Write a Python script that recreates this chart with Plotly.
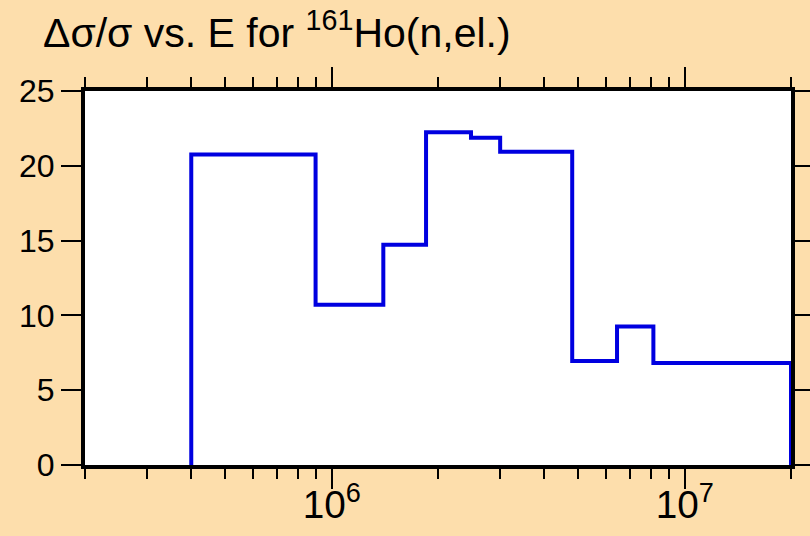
import plotly.graph_objects as go

# bin edges (eV) and relative uncertainty (%) per bin
energy_edges = [4.0e5, 9.0e5, 1.40e6, 1.85e6, 2.48e6, 3.0e6, 4.8e6, 6.43e6, 8.15e6, 2.0e7]
rel_unc = [20.75, 10.72, 14.73, 22.25, 21.88, 20.94, 6.95, 9.25, 6.82]

# step outline: start from zero, close back to zero at the last edge
x = [energy_edges[0]] + energy_edges
y = [0] + rel_unc + [0]

FONT = "Liberation Sans, Arial, sans-serif"
BG = "#fddeac"

fig = go.Figure()
fig.add_trace(
    go.Scatter(
        x=x,
        y=y,
        mode="lines",
        line=dict(color="#0000e0", width=4, shape="hv"),
        showlegend=False,
    )
)

fig.update_layout(
    width=810,
    height=536,
    paper_bgcolor=BG,
    plot_bgcolor="white",
    margin=dict(l=85, r=19, t=91, b=71),
    font=dict(family=FONT, size=32, color="black"),
)

# title drawn as annotation so its size/position is fixed in pixels
fig.add_annotation(
    text="\u0394\u03c3/\u03c3 vs. E for <sup>161</sup>Ho(n,el.)",
    xref="paper",
    yref="paper",
    x=-44 / 706,
    y=1 + 61 / 374,
    xanchor="left",
    yanchor="middle",
    showarrow=False,
    font=dict(family=FONT, size=41, color="black"),
)

fig.update_xaxes(
    type="log",
    range=[5.30103, 7.30103],
    dtick=1,
    exponentformat="power",
    showline=True,
    linewidth=4,
    linecolor="black",
    mirror="ticks",
    ticks="outside",
    ticklen=20,
    tickwidth=2,
    tickcolor="black",
    showgrid=False,
    zeroline=False,
    automargin=False,
    ticklabelstandoff=-16,
    tickfont=dict(family=FONT, size=31),
    minor=dict(ticks="outside", ticklen=10, tickwidth=2, tickcolor="black", dtick="D1", showgrid=False),
)

fig.update_yaxes(
    range=[0, 25],
    dtick=5,
    showline=True,
    linewidth=4,
    linecolor="black",
    mirror="ticks",
    ticks="outside",
    ticklen=20,
    tickwidth=2,
    tickcolor="black",
    showgrid=False,
    zeroline=False,
    automargin=False,
    tickfont=dict(family=FONT, size=32),
)

fig.write_html(
    "out.html",
    config={"displayModeBar": False},
    post_script="document.body.style.margin='0';document.body.style.overflow='hidden';",
)
